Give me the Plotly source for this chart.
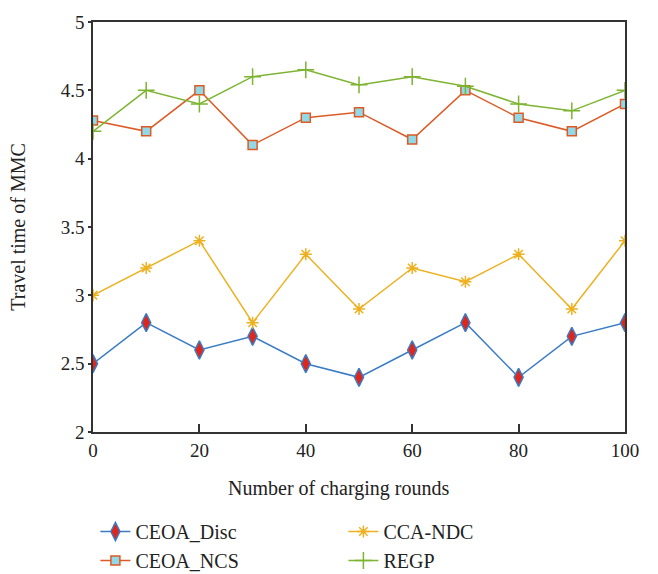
import plotly.graph_objects as go

rounds = [0, 10, 20, 30, 40, 50, 60, 70, 80, 90, 100]
ceoa_disc = [2.5, 2.8, 2.6, 2.7, 2.5, 2.4, 2.6, 2.8, 2.4, 2.7, 2.8]
cca_ndc = [3.0, 3.2, 3.4, 2.8, 3.3, 2.9, 3.2, 3.1, 3.3, 2.9, 3.4]
ceoa_ncs = [4.28, 4.2, 4.5, 4.1, 4.3, 4.34, 4.14, 4.5, 4.3, 4.2, 4.4]
regp = [4.2, 4.5, 4.4, 4.6, 4.65, 4.54, 4.6, 4.53, 4.4, 4.35, 4.5]

FONT = "Liberation Serif"
TXT = "#222222"

fig = go.Figure()
fig.add_trace(go.Scatter(x=rounds, y=ceoa_disc, name="CEOA_Disc", mode="lines+markers",
                         line=dict(color="#3a7cc4", width=1.5),
                         marker=dict(symbol="diamond-tall", size=13, color="#e0261c",
                                     line=dict(color="#3a7cc4", width=1.5))))
fig.add_trace(go.Scatter(x=rounds, y=cca_ndc, name="CCA-NDC", mode="lines+markers",
                         line=dict(color="#edb120", width=1.5),
                         marker=dict(symbol="asterisk-open", size=10,
                                     line=dict(color="#edb120", width=1.5))))
fig.add_trace(go.Scatter(x=rounds, y=ceoa_ncs, name="CEOA_NCS", mode="lines+markers",
                         line=dict(color="#dd5a24", width=1.5),
                         marker=dict(symbol="square", size=9, color="#92d9e8",
                                     line=dict(color="#dd5a24", width=1.5))))
fig.add_trace(go.Scatter(x=rounds, y=regp, name="REGP", mode="lines+markers",
                         line=dict(color="#7db431", width=1.5),
                         marker=dict(symbol="cross-thin-open", size=12,
                                     line=dict(color="#7db431", width=1.5))))

fig.update_layout(
    width=658, height=574,
    margin=dict(l=93, r=33, t=12, b=142),
    paper_bgcolor="white", plot_bgcolor="white",
    font=dict(family=FONT, size=19, color=TXT),
    showlegend=True,
    legend=dict(orientation="h", xref="container", yref="container",
                x=0.145, y=0.108, xanchor="left", yanchor="top",
                entrywidth=203, entrywidthmode="pixels",
                font=dict(family=FONT, size=20, color=TXT),
                tracegroupgap=0, itemwidth=30),
    xaxis=dict(range=[0, 100], tickvals=[0, 20, 40, 60, 80, 100],
               ticks="inside", ticklen=8, tickwidth=1.5, tickcolor="#333333",
               showline=True, linecolor="#333333", linewidth=1.5, mirror=True,
               showgrid=False, zeroline=False,
               tickfont=dict(family=FONT, size=19, color=TXT)),
    yaxis=dict(range=[2, 5], tickvals=[2, 2.5, 3, 3.5, 4, 4.5, 5],
               ticktext=["2", "2.5", "3", "3.5", "4", "4.5", "5"],
               ticks="outside", ticklen=3, tickwidth=1.5, tickcolor="#333333",
               showline=True, linecolor="#333333", linewidth=1.5, mirror=True,
               showgrid=False, zeroline=False,
               tickfont=dict(family=FONT, size=19, color=TXT),
               title=dict(text="Travel time of MMC", standoff=30,
                          font=dict(family=FONT, size=20, color=TXT))),
)
fig.add_annotation(text="Number of charging rounds", xref="paper", yref="paper",
                   x=(338 - 93) / 532, y=-(490 - 432) / 420, xanchor="center", yanchor="middle",
                   showarrow=False, font=dict(family=FONT, size=20, color=TXT))

fig.write_html("out.html")
